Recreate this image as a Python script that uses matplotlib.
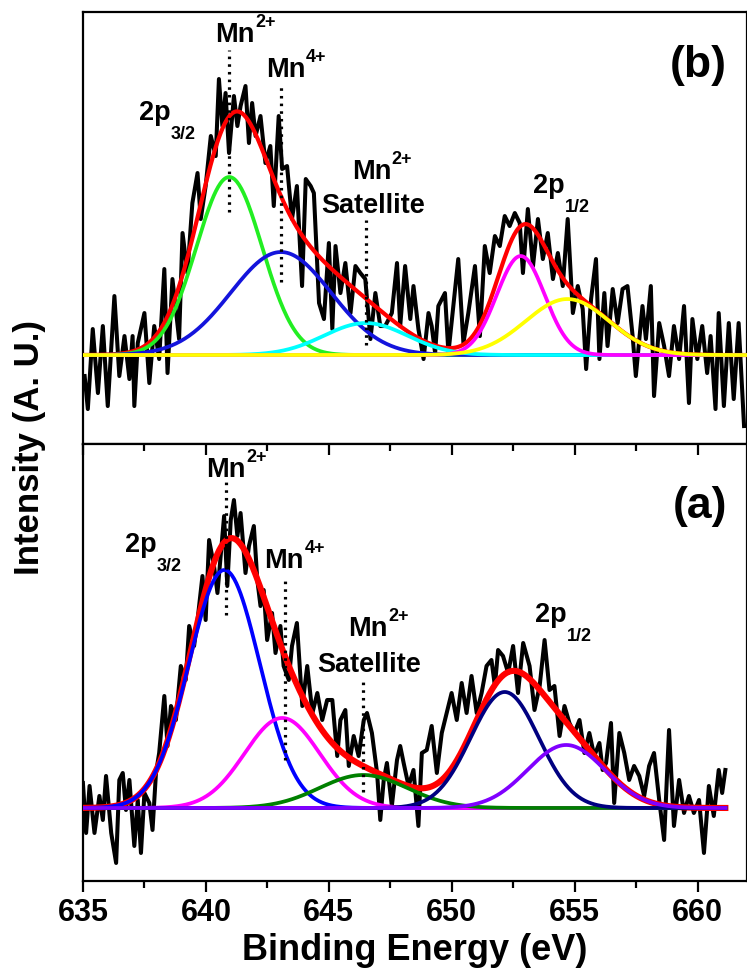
import matplotlib
matplotlib.use('Agg')
import matplotlib.pyplot as plt
from matplotlib.ticker import MultipleLocator
import numpy as np

plt.rcParams['font.family'] = ['Liberation Sans', 'DejaVu Sans']
plt.rcParams['font.weight'] = 'bold'

# ---- panel (b): measured spectrum (binding energy, intensity above baseline) ----
b_energy = [
    635.07, 635.20, 635.40, 635.61, 635.81, 636.01, 636.28, 636.48, 636.69, 636.89,
    637.02, 637.09, 637.23, 637.50, 637.70, 637.90, 638.10, 638.31, 638.44, 638.64,
    638.91, 639.05, 639.25, 639.45, 639.66, 639.79, 639.99, 640.20, 640.40, 640.53,
    640.67, 640.80, 640.94, 641.14, 641.28, 641.41, 641.61, 641.75, 641.88, 642.02,
    642.22, 642.42, 642.62, 642.76, 642.96, 643.10, 643.30, 643.50, 643.70, 643.91,
    644.06, 644.26, 644.39, 644.60, 644.80, 645.00, 645.14, 645.27, 645.47, 645.67,
    645.88, 646.08, 646.28, 646.48, 646.69, 646.89, 647.09, 647.29, 647.56, 647.77,
    647.90, 648.10, 648.31, 648.44, 648.64, 648.85, 649.05, 649.18, 649.32, 649.45,
    649.72, 649.86, 650.06, 650.26, 650.47, 650.67, 650.94, 651.14, 651.34, 651.54,
    651.75, 651.95, 652.15, 652.35, 652.56, 652.76, 652.89, 653.09, 653.30, 653.50,
    653.70, 653.90, 654.11, 654.31, 654.51, 654.71, 654.92, 655.12, 655.32, 655.46,
    655.66, 655.86, 656.00, 656.20, 656.33, 656.54, 656.74, 656.94, 657.14, 657.35,
    657.48, 657.75, 657.89, 658.09, 658.22, 658.43, 658.63, 658.83, 659.03, 659.24,
    659.44, 659.64, 659.78, 659.98, 660.18, 660.38, 660.52, 660.72, 660.85, 661.06,
    661.26, 661.46, 661.66, 661.88,
]
b_counts = [
    -21, -54, 26, -38, 29, -51, 59, -21, 19, -24,
    19, -51, 12, 42, -28, 29, -4, 86, -18, 76,
    16, 122, 82, 152, 182, 136, 169, 219, 199, 276,
    229, 262, 202, 259, 229, 249, 269, 212, 252, 219,
    239, 192, 209, 149, 239, 186, 189, 136, 169, 69,
    176, 169, 162, 52, 36, 112, 26, 109, 62, 92,
    42, 89, 82, 76, 16, 62, 29, 29, 42, 92,
    29, 89, 36, 69, 26, -4, 42, 29, 2, 49,
    62, 2, 49, 96, 12, 42, 89, 19, 109, 82,
    119, 109, 139, 129, 142, 132, 82, 146, 89, 136,
    96, 122, 76, 102, 69, 136, 42, 69, 46, -14,
    56, 96, -4, 62, 9, 66, 32, 66, 69, 19,
    -21, 49, 16, 69, -41, 32, 9, -21, 29, -4,
    49, -48, 36, -4, 29, -18, 19, -54, 42, -51,
    32, -44, 32, -71,
]

# ---- panel (a): measured spectrum ----
a_energy = [
    635.00, 635.13, 635.27, 635.47, 635.67, 635.81, 635.94, 636.15, 636.35, 636.48,
    636.62, 636.75, 636.89, 637.09, 637.23, 637.36, 637.50, 637.70, 637.83, 637.97,
    638.10, 638.31, 638.44, 638.58, 638.78, 638.98, 639.18, 639.32, 639.52, 639.66,
    639.86, 639.99, 640.13, 640.33, 640.47, 640.60, 640.74, 640.87, 641.01, 641.14,
    641.28, 641.41, 641.61, 641.75, 641.95, 642.09, 642.22, 642.35, 642.49, 642.69,
    642.83, 643.03, 643.16, 643.37, 643.50, 643.70, 643.92, 644.12, 644.33, 644.53,
    644.73, 644.93, 645.14, 645.34, 645.47, 645.67, 645.81, 646.01, 646.21, 646.42,
    646.55, 646.75, 646.96, 647.09, 647.23, 647.36, 647.56, 647.77, 647.90, 648.04,
    648.24, 648.44, 648.64, 648.78, 648.98, 649.18, 649.39, 649.59, 649.79, 649.99,
    650.20, 650.40, 650.60, 650.80, 651.01, 651.21, 651.41, 651.61, 651.75, 651.88,
    652.08, 652.29, 652.49, 652.69, 652.90, 653.16, 653.36, 653.57, 653.77, 653.97,
    654.17, 654.38, 654.58, 654.78, 654.98, 655.19, 655.39, 655.59, 655.79, 656.00,
    656.13, 656.27, 656.47, 656.60, 656.81, 657.01, 657.21, 657.41, 657.62, 657.82,
    658.02, 658.22, 658.43, 658.63, 658.83, 659.03, 659.24, 659.44, 659.64, 659.84,
    660.05, 660.25, 660.45, 660.65, 660.85, 660.99, 661.12,
]
a_counts = [
    25, -25, 22, -25, 12, -12, 32, -25, -55, 28,
    35, -2, 28, -38, 8, -45, 15, 5, -22, 35,
    55, 112, 62, 102, 88, 142, 128, 182, 162, 188,
    232, 188, 268, 242, 215, 252, 292, 222, 288, 308,
    272, 295, 235, 262, 282, 228, 202, 218, 168, 195,
    155, 182, 142, 128, 162, 185, 102, 142, 95, 115,
    88, 108, 108, 52, 88, 98, 42, 72, 52, 88,
    95, 75, 35, -12, 28, 45, 2, 48, 62, 45,
    22, 38, -18, 55, 58, 82, 35, 75, 95, 115,
    88, 125, 95, 132, 95, 115, 142, 148, 122, 158,
    152, 135, 162, 115, 165, 142, 98, 122, 168, 118,
    122, 72, 102, 85, 75, 88, 55, 75, 52, 65,
    38, 45, 85, 5, 75, 55, 28, 42, 32, 12,
    42, 55, 8, -32, 78, -18, 28, -5, 12, -5,
    8, -45, 22, -8, 38, 15, 38,
]

# ---- fitted components: centre (eV), height, FWHM (eV) ----
b_centres = [640.95, 643.05, 646.5, 652.8, 654.7]
b_heights = [178, 103, 32, 99, 56]
b_fwhm = [3.15, 4.8, 4.0, 2.3, 4.0]
b_colors = ['#22ee22', '#1414dc', '#00ffff', '#ff00ff', '#ffff00']

a_centres = [640.75, 643.1, 646.4, 652.15, 654.65]
a_heights = [238, 90, 33, 116, 63]
a_fwhm = [3.4, 3.6, 4.2, 3.26, 3.7]
a_colors = ['#0000ff', '#ff00ff', '#008000', '#000080', '#8000ff']

# dotted marker lines: (energy, y_low, y_high)
b_markers = [(640.95, 143, 305), (643.05, 73, 272), (646.5, 10, 135)]
a_markers = [(640.8, 193, 328), (643.2, 48, 231), (646.4, 16, 131)]

# labels: (x, y, main text, script, 'sup' / 'sub' / None)
b_labels = [
    (640.38, 313, 'Mn', '2+', 'sup'),
    (642.45, 278, 'Mn', '4+', 'sup'),
    (637.27, 235, '2p', '3/2', 'sub'),
    (645.93, 176, 'Mn', '2+', 'sup'),
    (644.68, 142, 'Satellite', '', None),
    (653.30, 162, '2p', '1/2', 'sub'),
]
a_labels = [
    (640.02, 331, 'Mn', '2+', 'sup'),
    (642.37, 240, 'Mn', '4+', 'sup'),
    (636.70, 256, '2p', '3/2', 'sub'),
    (645.77, 172, 'Mn', '2+', 'sup'),
    (644.51, 136, 'Satellite', '', None),
    (653.38, 186, '2p', '1/2', 'sub'),
]


def gauss(x, c, h, w):
    s = w / 2.3548
    return h * np.exp(-(x - c) ** 2 / (2 * s * s))


def draw_panel(ax, energy, counts, centres, heights, fwhm, colors, x_end,
               red_lw, markers):
    ax.plot(energy, counts, color='black', lw=2.9, zorder=2)
    xs = np.linspace(635, x_end, 600)
    comps = [gauss(xs, c, h, w) for c, h, w in zip(centres, heights, fwhm)]
    ax.plot(xs, np.sum(comps, axis=0), color='#ff0000', lw=red_lw, zorder=3)
    for comp, col in zip(comps, colors):
        ax.plot(xs, comp, color=col, lw=2.7, zorder=4)
    for e, lo, hi in markers:
        ax.plot([e, e], [lo, hi], color='black', lw=2.3,
                linestyle=(0, (0.8, 1.6)), zorder=5)


def draw_labels(ax, labels, fs=19.5):
    for x, y, main, script, kind in labels:
        t = ax.text(x, y, main, fontsize=fs, fontweight='bold',
                    ha='left', va='baseline', zorder=6)
        if kind == 'sup':
            ax.annotate(script, xy=(1, 0.5), xycoords=t, xytext=(0.5, 3),
                        textcoords='offset points', fontsize=13,
                        fontweight='bold', ha='left', va='bottom')
        elif kind == 'sub':
            ax.annotate(script, xy=(1, 0), xycoords=t, xytext=(0.5, 0),
                        textcoords='offset points', fontsize=13,
                        fontweight='bold', ha='left', va='top')


fig = plt.figure(figsize=(7.47, 9.77), dpi=100)
ax_b = fig.add_axes([0.111, 0.5455, 0.889, 0.4422])
ax_a = fig.add_axes([0.111, 0.0983, 0.889, 0.4472])

draw_panel(ax_b, b_energy, b_counts, b_centres, b_heights, b_fwhm, b_colors,
           662, 3.0, b_markers)
draw_panel(ax_a, a_energy, a_counts, a_centres, a_heights, a_fwhm, a_colors,
           661.12, 4.4, a_markers)

ax_b.set_ylim(-89, 343)
ax_a.set_ylim(-73, 364)

for ax in (ax_a, ax_b):
    ax.set_xlim(635, 662)
    ax.set_yticks([])
    for sp in ax.spines.values():
        sp.set_linewidth(1.6)
    ax.xaxis.set_major_locator(MultipleLocator(5))
    ax.xaxis.set_minor_locator(MultipleLocator(2.5))

ax_b.tick_params(axis='x', which='both', bottom=False, top=False,
                 labelbottom=False)
ax_a.tick_params(axis='x', which='major', direction='out', length=8, width=1.6,
                 labelsize=22, pad=4, top=True)
ax_a.tick_params(axis='x', which='minor', direction='out', length=5, width=1.6,
                 top=True)
# ticks on the shared border point down into panel (a)
for t in ax_a.xaxis.get_major_ticks() + ax_a.xaxis.get_minor_ticks():
    t.tick2line.set_marker(3)
for lab in ax_a.get_xticklabels():
    lab.set_fontweight('bold')

ax_a.set_xlabel('Binding Energy (eV)', fontsize=26, fontweight='bold', labelpad=4)
fig.text(0.040, 0.542, 'Intensity (A. U.)', rotation=90, fontsize=25,
         fontweight='bold', ha='center', va='center')

draw_labels(ax_b, b_labels)
draw_labels(ax_a, a_labels)
ax_b.text(658.85, 278, '(b)', fontsize=32, fontweight='bold')
ax_a.text(658.97, 290, '(a)', fontsize=32, fontweight='bold')

fig.savefig('out.png', dpi=100)
